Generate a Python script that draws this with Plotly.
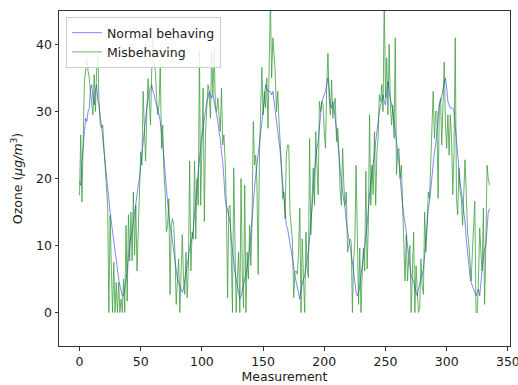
import plotly.graph_objects as go

measurement = list(range(336))

normal = [
    19.5, 19, 22.5, 25.5, 27, 29, 28.5, 30, 30.5, 33.5,
    34, 32, 31, 33, 34, 31.5, 31, 29, 28, 26,
    24, 22, 20.5, 18, 16.5, 15, 13.5, 12, 10.5, 9,
    7.5, 6, 5, 4, 3, 2.5, 2.5, 3.5, 5, 6,
    8.5, 10.5, 11.5, 12, 13.5, 14.5, 16, 18, 19, 20,
    22, 24, 25.5, 27.5, 29, 30.5, 32, 33, 33.5, 34,
    33, 32.5, 31.5, 31, 30, 29.5, 28.5, 27, 25, 23,
    20, 18.5, 16.5, 14.5, 13, 12, 10.5, 9, 7.5, 6.5,
    5, 4.5, 4, 3.5, 3, 3.5, 5, 6, 7, 8.5,
    9.5, 10.5, 11, 12.5, 15, 17, 19, 21, 23, 24.5,
    26.5, 27.5, 29, 30.5, 31.5, 32, 33, 32.5, 32, 32.5,
    31.5, 31, 29.5, 28.5, 27, 26, 24, 22.5, 20, 17,
    16, 15, 14.5, 13.5, 11, 9, 7.5, 6, 5, 4,
    3, 2, 2.5, 3.5, 4, 5, 5.5, 6.5, 8, 9.5,
    12, 14, 16, 18.5, 20.5, 22, 24, 25, 26.5, 28,
    29.5, 31.5, 34, 33.5, 33, 33, 33, 32.5, 33, 31.5,
    30, 29, 27.5, 26, 24, 21.5, 19.5, 17, 14.5, 13,
    12.5, 11.5, 10.5, 9.5, 8, 7, 5.5, 4.5, 3.5, 2.5,
    2, 3.5, 4.5, 5, 5.5, 6.5, 8, 9, 11, 13,
    15, 18, 21, 23, 24.5, 25.5, 27.5, 30, 31.5, 32,
    32.5, 33, 34, 35, 33.5, 31, 30.5, 31.5, 30.5, 29,
    27.5, 25.5, 23.5, 21, 19.5, 18, 17, 15.5, 13.5, 12,
    11, 10, 9, 7.5, 6, 4, 3, 2.5, 3, 4,
    5.5, 7, 8, 9.5, 11.5, 13, 15.5, 18, 19.5, 21,
    22, 23.5, 25.5, 27.5, 28.5, 30, 31, 32, 32.5, 31.5,
    31, 33, 34.5, 33, 32, 31.5, 30, 28.5, 27, 26,
    24.5, 22.5, 20, 17.5, 16, 14.5, 13.5, 12, 10, 8.5,
    7, 5.5, 5, 4.5, 4, 3, 2.5, 3.5, 4.5, 5,
    5.5, 6.5, 8.5, 11, 13, 15.5, 16.5, 18.5, 20.5, 22,
    24, 25, 27, 29.5, 31, 31.5, 32.5, 33, 34, 35,
    33.5, 31.5, 31, 30.5, 30.5, 30.5, 30, 27.5, 26, 23.5,
    21.5, 19.5, 18, 16, 14.5, 13.5, 11, 9, 7.5, 5.5,
    4.5, 4, 3.5, 3, 2.5, 3, 3.5, 2.5, 5, 6.5,
    8, 9.5, 10, 12, 15, 15.5,
]

misbehaving = [
    17.5, 26.5, 16.5, 25, 34.5, 36, 38, 36, 35, 33,
    31, 29.5, 35.5, 30, 36, 38.5, 31, 28, 27.5, 28,
    24.5, 22, 19, 16, 0, 14.5, 7, 0, 7.5, 0,
    4.5, 0, 4.5, 0, 2, 0, 5, 0, 13, 1.7,
    14.6, 7.7, 15, 7.7, 18, 8.6, 16, 6.2, 12, 17,
    24, 22, 33, 27.5, 22.6, 30, 34.9, 32, 28, 36,
    41, 37.4, 36, 32, 29.5, 31, 37, 24.5, 28, 21,
    18, 12, 13, 17, 2.7, 13, 14, 13, 9, 1.2,
    5.2, 8, 0, 6, 11.6, 5, 2.7, 9, 2.2, 7,
    22.6, 6.2, 12, 11, 22.6, 11, 20, 16, 39, 16,
    28, 33.5, 13.6, 27, 30.5, 34, 33, 29, 39, 32.5,
    39.4, 31, 30, 32, 29.5, 27, 33.5, 25, 26.5, 22.6,
    16, 2.2, 15.6, 16, 9, 0, 21.6, 7, 0, 5.2,
    9, 0, 20, 6, 0.7, 19, 0, 9, 5, 13,
    7, 14, 28.5, 22, 23.5, 19, 5.7, 23.5, 30.5, 36.6,
    29.5, 33, 30.5, 35, 27.5, 35, 47, 35, 41, 38.4,
    35.4, 30, 33, 28.5, 26, 22, 17, 18, 14, 23.5,
    25, 25, 15, 12, 10.6, 2.2, 6, 6.2, 5.7, 9,
    15.6, 0, 11, 5, 0, 12, 7, 5.2, 26, 11.6,
    17, 21.6, 16, 27, 22, 17.6, 31.5, 30, 31.5, 31,
    27, 24.5, 34, 38.7, 32, 29.5, 34.7, 29, 31, 32,
    25.5, 27.5, 24, 18, 16, 24.5, 19, 16, 18, 9,
    10, 11, 10.6, 0, 8, 10.6, 22, 8, 1.2, 9.6,
    0, 6, 9.6, 6.2, 21.1, 6.5, 13, 29.5, 16, 22,
    17.6, 27, 16, 24, 26, 32.5, 31.5, 34, 30, 47,
    32, 38, 29.5, 40, 31, 28, 31, 26, 41, 20.6,
    24, 24.5, 20, 22, 17, 12, 4.7, 11.6, 4.7, 8,
    10, 0, 5, 12, 0, 7, 3, 0, 0.7, 8,
    4, 2.7, 15, 9, 13, 18, 17, 22, 28, 33,
    26, 30, 30, 17, 31, 32, 25, 30, 37.4, 28,
    24.5, 29.5, 23.5, 29.5, 26, 17.6, 24, 41, 17, 14.6,
    21.6, 18, 17, 13, 17, 22.8, 18, 12, 10.6, 8,
    4.7, 9, 12, 16.6, 0, 0, 5, 12.6, 9, 6.2,
    15.6, 1.2, 10, 22, 20, 19,
]

x_ticks = [0, 50, 100, 150, 200, 250, 300, 350]
y_ticks = [0, 10, 20, 30, 40]

FONT = "DejaVu Sans"
TXT = "#1a1a1a"

fig = go.Figure()
fig.add_trace(go.Scatter(
    x=measurement, y=normal, mode="lines", name="Normal behaving",
    line=dict(color="#0000ff", width=0.6), opacity=0.8,
))
fig.add_trace(go.Scatter(
    x=measurement, y=misbehaving, mode="lines", name="Misbehaving",
    line=dict(color="#008000", width=0.8), opacity=0.75,
))

axis_common = dict(
    showgrid=False, zeroline=False, showline=True, mirror=True,
    linecolor="#333333", linewidth=1, ticks="outside", ticklen=3.5,
    tickwidth=1, tickcolor="#333333", ticklabeloverflow="allow",
    automargin=False,
    tickfont=dict(family=FONT, size=12.5, color=TXT),
)

fig.update_layout(
    template="none",
    width=518, height=385,
    margin=dict(l=59, r=8, t=11, b=38.5, pad=0),
    paper_bgcolor="white", plot_bgcolor="white",
    font=dict(family=FONT, size=12.5, color=TXT),
    xaxis=dict(range=[-16.75, 351.75], tickvals=x_ticks,
               ticktext=[str(v) for v in x_ticks],
               title=dict(text="Measurement", standoff=2,
                          font=dict(family=FONT, size=12.5, color=TXT)),
               **axis_common),
    yaxis=dict(range=[-5, 45], tickvals=y_ticks,
               ticktext=[str(v) for v in y_ticks],
               title=dict(text="Ozone (<i>μg/m</i><sup>3</sup>)", standoff=10,
                          font=dict(family=FONT, size=12.5, color=TXT)),
               **axis_common),
    legend=dict(x=0.0155, y=0.982, xanchor="left", yanchor="top",
                bgcolor="rgba(255,255,255,0.85)", bordercolor="#cccccc",
                borderwidth=1, font=dict(family=FONT, size=12.5, color=TXT),
                tracegroupgap=0, itemwidth=30),
    showlegend=True,
)

fig.write_html("out.html")
